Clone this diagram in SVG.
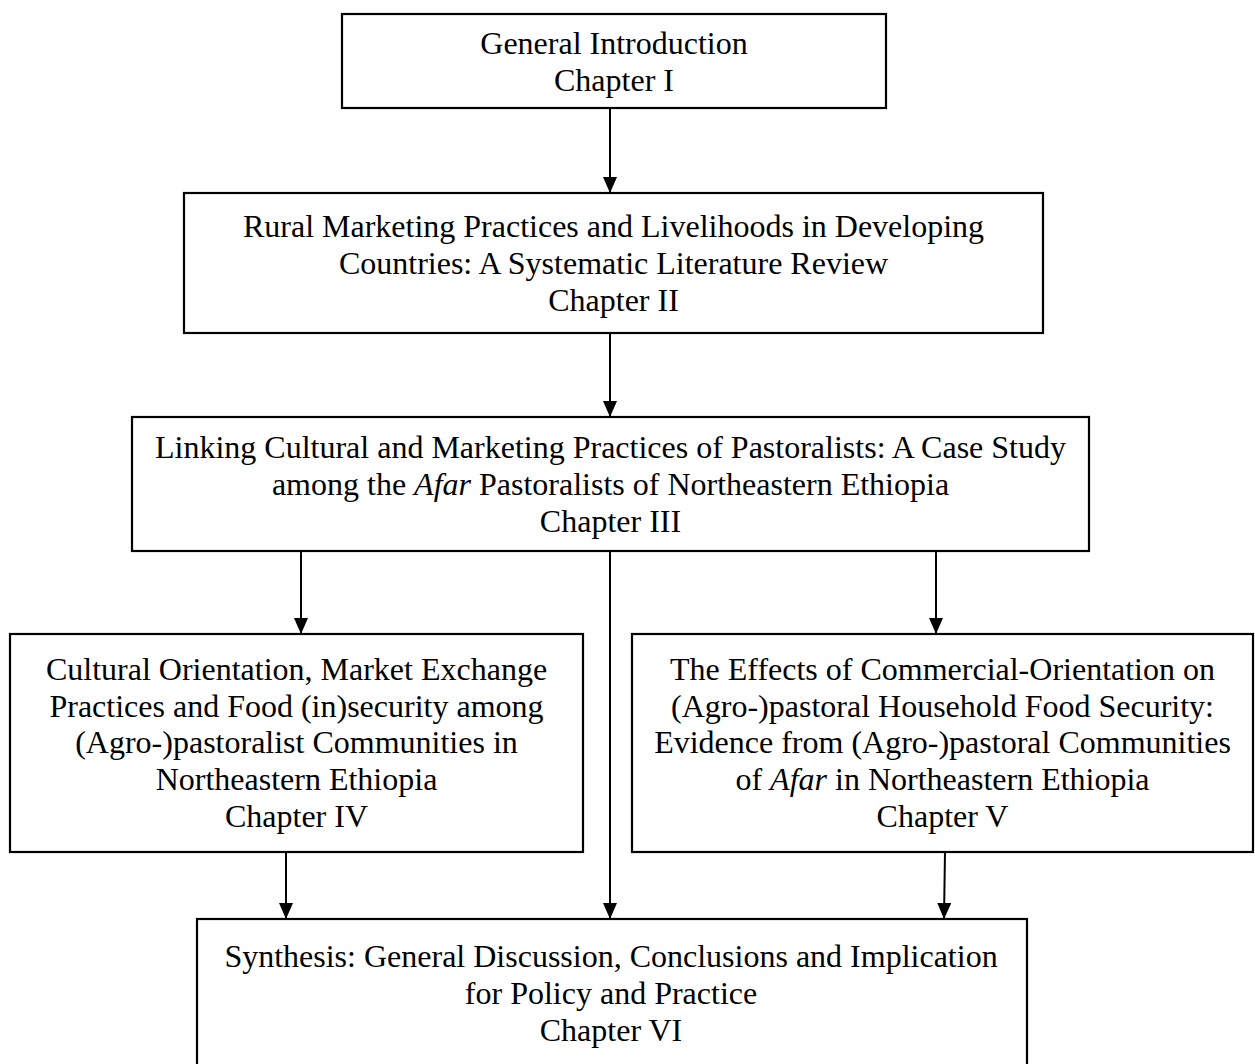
<svg xmlns="http://www.w3.org/2000/svg" width="1255" height="1064" viewBox="0 0 1255 1064">
  <style>
    .box { fill: #ffffff; stroke: #000000; stroke-width: 2.2; }
    .lbl { font-family: "Liberation Serif", "Times New Roman", serif; font-size: 32px; fill: #000000; text-anchor: middle; }
    .it { font-style: italic; }
    .link { stroke: #000000; stroke-width: 2; fill: none; marker-end: url(#head); }
  </style>
  <defs>
    <!-- solid triangular arrowhead, tip at the end of the line -->
    <marker id="head" viewBox="0 0 16 14" refX="16" refY="7" markerWidth="16" markerHeight="14" markerUnits="userSpaceOnUse" orient="auto">
      <path d="M0,0 L16,7 L0,14 Z" fill="#000000"/>
    </marker>
  </defs>
  <rect width="1255" height="1064" fill="#ffffff"/>

  <g id="connectors">
    <line class="link" x1="610" y1="108" x2="610" y2="193"/>
    <line class="link" x1="610" y1="333" x2="610" y2="417"/>
    <line class="link" x1="301" y1="551" x2="301" y2="634"/>
    <line class="link" x1="936" y1="551" x2="936" y2="634"/>
    <line class="link" x1="610" y1="551" x2="610" y2="919"/>
    <line class="link" x1="286" y1="852" x2="286" y2="919"/>
    <line class="link" x1="945" y1="852" x2="944" y2="919"/>
  </g>

  <g id="ch1">
    <rect class="box" x="342" y="14" width="544" height="94"/>
    <text class="lbl" x="614" y="54">General Introduction</text>
    <text class="lbl" x="614" y="91">Chapter I</text>
  </g>

  <g id="ch2">
    <rect class="box" x="184" y="193" width="859" height="140"/>
    <text class="lbl" x="613.5" y="237">Rural Marketing Practices and Livelihoods in Developing</text>
    <text class="lbl" x="613.5" y="274">Countries: A Systematic Literature Review</text>
    <text class="lbl" x="613.5" y="311">Chapter II</text>
  </g>

  <g id="ch3">
    <rect class="box" x="132" y="417" width="957" height="134"/>
    <text class="lbl" x="610.5" y="458">Linking Cultural and Marketing Practices of Pastoralists: A Case Study</text>
    <text class="lbl" x="610.5" y="495">among the <tspan class="it">Afar</tspan> Pastoralists of Northeastern Ethiopia</text>
    <text class="lbl" x="610.5" y="532">Chapter III</text>
  </g>

  <g id="ch4">
    <rect class="box" x="10" y="634" width="573" height="218"/>
    <text class="lbl" x="296.5" y="680">Cultural Orientation, Market Exchange</text>
    <text class="lbl" x="296.5" y="717">Practices and Food (in)security among</text>
    <text class="lbl" x="296.5" y="753">(Agro-)pastoralist Communities in</text>
    <text class="lbl" x="296.5" y="790">Northeastern Ethiopia</text>
    <text class="lbl" x="296.5" y="827">Chapter IV</text>
  </g>

  <g id="ch5">
    <rect class="box" x="632" y="634" width="621" height="218"/>
    <text class="lbl" x="942.5" y="680">The Effects of Commercial-Orientation on</text>
    <text class="lbl" x="942.5" y="717">(Agro-)pastoral Household Food Security:</text>
    <text class="lbl" x="942.5" y="753">Evidence from (Agro-)pastoral Communities</text>
    <text class="lbl" x="942.5" y="790">of <tspan class="it">Afar</tspan> in Northeastern Ethiopia</text>
    <text class="lbl" x="942.5" y="827">Chapter V</text>
  </g>

  <g id="ch6">
    <rect class="box" x="197" y="919" width="830" height="160"/>
    <text class="lbl" x="611" y="967">Synthesis: General Discussion, Conclusions and Implication</text>
    <text class="lbl" x="611" y="1004">for Policy and Practice</text>
    <text class="lbl" x="611" y="1041">Chapter VI</text>
  </g>
</svg>
